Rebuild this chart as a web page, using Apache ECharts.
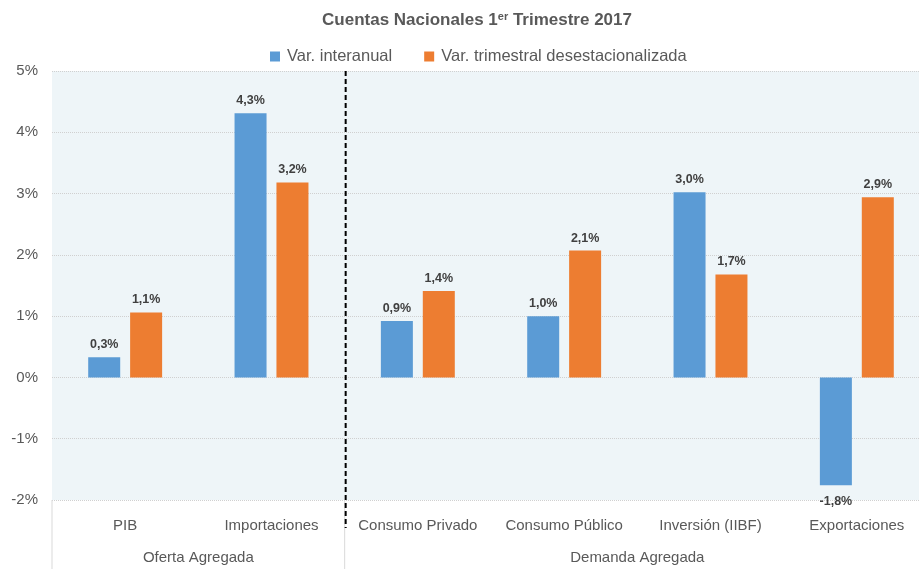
<!DOCTYPE html>
<html>
<head>
<meta charset="utf-8">
<script src="https://cdn.jsdelivr.net/npm/echarts@6/dist/echarts.min.js"></script>
<style>
  html, body { margin: 0; padding: 0; background: #fff; }
  #main { width: 919px; height: 569px; }
</style>
</head>
<body>
<div id="main"></div>
<script>
const categories = ["PIB", "Importaciones", "Consumo Privado", "Consumo Público", "Inversión (IIBF)", "Exportaciones"];
const groups = ["Oferta Agregada", "Demanda Agregada"];
const groupSizes = [2, 4];
const interanual = [0.33, 4.31, 0.92, 1.0, 3.02, -1.76];
const trimestral = [1.06, 3.18, 1.41, 2.07, 1.68, 2.94];
const seriesNames = ["Var. interanual", "Var. trimestral desestacionalizada"];

const font = "'Liberation Sans', sans-serif";
const fmt = (v) => v.toFixed(1).replace(".", ",") + "%";

var myChart = echarts.init(document.getElementById("main"));

var labelStyle = {
  show: true,
  position: "top",
  fontFamily: font,
  fontSize: 12.5,
  fontWeight: "bold",
  color: "#404040",
  distance: 6,
  formatter: (p) => fmt(p.value),
};

var option = {
  animation: false,
  title: {
    text: "Cuentas Nacionales 1{sup|er} Trimestre 2017",
    left: 472,
    textAlign: "center",
    top: 6,
    textStyle: {
      fontFamily: font,
      fontSize: 17,
      fontWeight: "bold",
      color: "#595959",
      rich: {
        sup: { fontFamily: font, fontSize: 11, fontWeight: "bold", color: "#595959", verticalAlign: "top", padding: [0, 0, 8, 0] },
      },
    },
  },
  legend: {
    top: 43,
    left: 265,
    itemWidth: 10,
    itemHeight: 10,
    itemGap: 32,
    icon: "rect",
    textStyle: { fontFamily: font, fontSize: 16.5, color: "#595959", padding: [0, 0, 0, 2] },
    data: seriesNames,
  },
  grid: {
    left: 52,
    right: -11,
    top: 71,
    bottom: 69,
    outerBoundsMode: "none",
    show: true,
    backgroundColor: "#EEF5F8",
    borderWidth: 0,
  },
  xAxis: {
    type: "category",
    data: categories,
    axisLine: { show: false, onZero: false },
    axisTick: { show: false },
    axisLabel: { interval: 0, fontFamily: font, fontSize: 15, color: "#595959", margin: 18 },
  },
  yAxis: {
    type: "value",
    min: -2,
    max: 5,
    interval: 1,
    axisLabel: { formatter: "{value}%", fontFamily: font, fontSize: 15, color: "#595959", margin: 14 },
    splitLine: { lineStyle: { color: "#D0D0D0", type: "dotted" } },
  },
  series: [
    {
      name: seriesNames[0],
      type: "bar",
      data: interanual.map((v) => (v < 0 ? { value: v, label: { position: "bottom", distance: 10 } } : v)),
      barWidth: 32,
      barGap: "31%",
      itemStyle: { color: "#5B9BD5" },
      label: labelStyle,
    },
    {
      name: seriesNames[1],
      type: "bar",
      data: trimestral,
      barWidth: 32,
      barGap: "31%",
      itemStyle: { color: "#ED7D31" },
      label: labelStyle,
    },
  ],
};

myChart.setOption(option);

// separators and group labels from the category axis positions
var centers = categories.map((c) => myChart.convertToPixel({ xAxisIndex: 0 }, c));
var band = centers[1] - centers[0];
var yBottom = myChart.convertToPixel({ yAxisIndex: 0 }, -2);
var yTop = myChart.convertToPixel({ yAxisIndex: 0 }, 5);
var graphics = [];
var start = 0;
groups.forEach((g, i) => {
  var left = centers[start] - band / 2;
  var right = centers[start + groupSizes[i] - 1] + band / 2;
  if (i < groups.length - 1) {
    graphics.push({
      type: "line",
      shape: { x1: right, y1: yBottom, x2: right, y2: 569 },
      style: { stroke: "#D9D9D9", lineWidth: 1 },
    });
    graphics.push({
      type: "line",
      shape: { x1: right + 1, y1: yTop, x2: right + 1, y2: yBottom + 28 },
      style: { stroke: "#000", lineWidth: 2, lineDash: [5, 3] },
      z: 10,
    });
  }
  if (i === 0) {
    graphics.push({
      type: "line",
      shape: { x1: left, y1: yBottom, x2: left, y2: 569 },
      style: { stroke: "#D9D9D9", lineWidth: 1 },
    });
  }
  graphics.push({
    type: "text",
    x: (left + right) / 2,
    y: 558,
    style: { text: g, fontFamily: font, fontSize: 15, fill: "#595959", align: "center", verticalAlign: "middle" },
  });
  start += groupSizes[i];
});
myChart.setOption({ graphic: graphics });
window.onresize = myChart.resize;
</script>
</body>
</html>
